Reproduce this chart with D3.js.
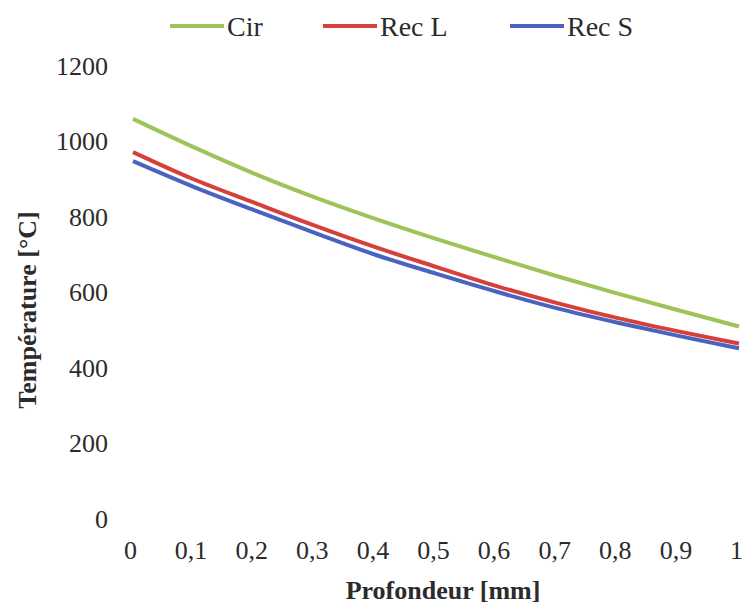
<!DOCTYPE html>
<html>
<head>
<meta charset="utf-8">
<script src="https://cdn.jsdelivr.net/npm/d3@7"></script>
<style>
  body { margin: 0; background: #fff; }
  svg text { font-family: "Liberation Serif", "Times New Roman", serif; fill: #2b2b2b; }
</style>
</head>
<body>
<div id="my_dataviz"></div>
<script>

// --------------------------------------------------------
// (1) Data
// --------------------------------------------------------

var depth = [0, 0.1, 0.2, 0.3, 0.4, 0.5, 0.6, 0.7, 0.8, 0.9, 1]
var cir   = [1060, 985, 915, 852, 795, 742, 692, 643, 597, 553, 510]
var recL  = [972, 900, 838, 777, 720, 668, 617, 572, 532, 497, 465]
var recS  = [948, 880, 818, 758, 700, 650, 602, 558, 520, 485, 452]

var seriesNames = ["Cir", "Rec L", "Rec S"]
var seriesColors = ["#9cc45a", "#d6403a", "#4b63c0"]
var xTicks = [0, 0.1, 0.2, 0.3, 0.4, 0.5, 0.6, 0.7, 0.8, 0.9, 1]
var yTicks = [0, 200, 400, 600, 800, 1000, 1200]

// --------------------------------------------------------
// (2) Sizes
// --------------------------------------------------------

var svg_width = 745
var svg_height = 609

const margin = { top: 66, right: 6, bottom: 90, left: 133 }

var width = svg_width - (margin.left + margin.right)
var height = svg_height - (margin.top + margin.bottom)

// --------------------------------------------------------
// (3) Chart
// --------------------------------------------------------

const svg = d3.select("#my_dataviz")
  .append("svg")
    .attr("width", svg_width)
    .attr("height", svg_height)

const g = svg.append("g")
    .attr("transform", `translate(${margin.left}, ${margin.top})`)

const x = d3.scaleLinear().domain([0, 1]).range([0, width])
const y = d3.scaleLinear().domain([0, 1200]).range([height, 0])

const fmt = d => String(d).replace(".", ",")

// x axis (labels only)
const xAxis = g.append("g")
  .attr("transform", `translate(0, ${height})`)
  .call(d3.axisBottom(x).tickValues(xTicks).tickFormat(fmt).tickSize(0).tickPadding(22))
xAxis.select(".domain").remove()
xAxis.selectAll("text")
  .attr("dx", -3)
  .style("font-size", "26px")

// y axis (labels only)
const yAxis = g.append("g")
  .call(d3.axisLeft(y).tickValues(yTicks).tickFormat(d3.format("d")).tickSize(0).tickPadding(25))
yAxis.select(".domain").remove()
yAxis.selectAll("text")
  .style("font-size", "26px")

// lines
const allSeries = [cir, recL, recS]
const line = d3.line()
  .x((d, i) => x(depth[i]))
  .y(d => y(d))
  .curve(d3.curveMonotoneX)

g.selectAll(".series")
  .data(allSeries)
  .join("path")
    .attr("class", "series")
    .attr("d", d => line(d))
    .attr("fill", "none")
    .attr("stroke", (d, i) => seriesColors[i])
    .attr("stroke-width", 4)

// axis titles
svg.append("text")
  .attr("x", 443)
  .attr("y", 599)
  .attr("text-anchor", "middle")
  .style("font-size", "26px")
  .style("font-weight", "bold")
  .text("Profondeur [mm]")

svg.append("text")
  .attr("transform", `translate(36, 310) rotate(-90)`)
  .attr("text-anchor", "middle")
  .style("font-size", "26px")
  .style("font-weight", "bold")
  .text("Température [°C]")

// legend
const legendX = [170, 323, 510]
const legend = svg.selectAll(".legend")
  .data(seriesNames)
  .join("g")
    .attr("class", "legend")
    .attr("transform", (d, i) => `translate(${legendX[i]}, 26)`)

legend.append("line")
  .attr("x1", 0).attr("x2", 54)
  .attr("stroke", (d, i) => seriesColors[i])
  .attr("stroke-width", 4)

legend.append("text")
  .attr("x", 57)
  .attr("y", 10)
  .style("font-size", "28px")
  .text(d => d)

</script>
</body>
</html>
